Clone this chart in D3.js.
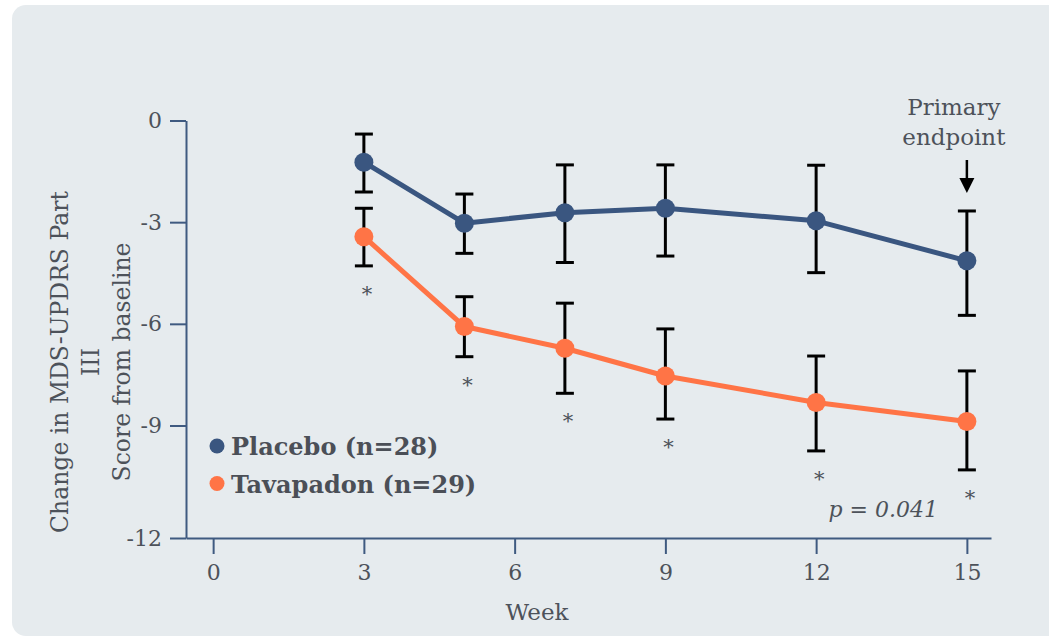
<!DOCTYPE html>
<html>
<head>
<meta charset="utf-8">
<script src="https://cdn.jsdelivr.net/npm/d3@7"></script>
<style>
  html, body { margin: 0; padding: 0; background: #ffffff; }
  svg { display: block; }
  text { font-family: "DejaVu Serif", Georgia, serif; }
</style>
</head>
<body>
<svg id="chart" width="1049" height="639"></svg>
<script>
// ---- data ----
const weeks = [3, 5, 7, 9, 12, 15];
const placeboMean  = [-1.23, -3.03, -2.72, -2.59, -2.96, -4.14];
const placeboUpper = [-0.40, -2.17, -1.31, -1.31, -1.32, -2.67];
const placeboLower = [-2.11, -3.92, -4.19, -4.00, -4.49, -5.75];
const tavaMean  = [-3.43, -6.08, -6.72, -7.54, -8.32, -8.88];
const tavaUpper = [-2.59, -5.20, -5.39, -6.15, -6.95, -7.39];
const tavaLower = [-4.29, -6.97, -8.05, -8.81, -9.75, -10.31];
const significant = [true, true, true, true, true, true];
const xTicks = [0, 3, 6, 9, 12, 15];
const yTicks = [0, -3, -6, -9, -12.32];
const yTickLabels = ["0", "-3", "-6", "-9", "-12"];
const seriesNames = ["Placebo (n=28)", "Tavapadon (n=29)"];
const pText = "p = 0.041";
const yLabelLines = ["Change in MDS-UPDRS Part", "III", "Score from baseline"];
const annotationLines = ["Primary", "endpoint"];

const colors = { placebo: "#3a5680", tava: "#ff7446", axis: "#3f5a80", text: "#4d525a" };

const svg = d3.select("#chart");

// panel
svg.append("rect").attr("x", 12).attr("y", 5).attr("width", 1070).attr("height", 631)
  .attr("rx", 14).attr("fill", "#e6ebee");

const x = d3.scaleLinear().domain([-0.54, 15.48]).range([186, 991]);
const y = d3.scaleLinear().domain([-12.32, 0]).range([538, 120.5]);

// axes
const yAxis = d3.axisLeft(y).tickValues(yTicks).tickSize(16).tickSizeOuter(0).tickPadding(8)
  .tickFormat((d, i) => yTickLabels[i]);
const gy = svg.append("g").attr("transform", "translate(186,0)").call(yAxis);
gy.select(".domain").attr("stroke", colors.axis).attr("stroke-width", 2);
gy.selectAll(".tick line").attr("stroke", colors.axis).attr("stroke-width", 2);
gy.selectAll(".tick text").attr("fill", colors.text).attr("font-size", 22)
  .attr("font-family", "DejaVu Serif");

const xAxis = d3.axisBottom(x).tickValues(xTicks).tickSize(16).tickSizeOuter(0).tickPadding(10);
const gx = svg.append("g").attr("transform", "translate(0,538)").call(xAxis);
gx.select(".domain").attr("stroke", colors.axis).attr("stroke-width", 2);
gx.selectAll(".tick line").attr("stroke", colors.axis).attr("stroke-width", 2);
gx.selectAll(".tick text").attr("fill", colors.text).attr("font-size", 22)
  .attr("font-family", "DejaVu Serif");

// axis titles
svg.append("text").attr("x", 537).attr("y", 620).attr("text-anchor", "middle")
  .attr("font-size", 23).attr("fill", colors.text).text("Week");

const yLabelX = [60, 91, 122];
yLabelLines.forEach((t, i) => {
  svg.append("text")
    .attr("transform", `translate(${yLabelX[i]},362) rotate(-90)`)
    .attr("text-anchor", "middle").attr("dy", "0.35em")
    .attr("font-size", 23.5).attr("fill", colors.text).text(t);
});

// series
const series = [
  { key: "placebo", mean: placeboMean, upper: placeboUpper, lower: placeboLower, color: colors.placebo },
  { key: "tava", mean: tavaMean, upper: tavaUpper, lower: tavaLower, color: colors.tava }
];

const line = d3.line().x(d => x(d.w)).y(d => y(d.v));

series.forEach(s => {
  const pts = weeks.map((w, i) => ({ w, v: s.mean[i], up: s.upper[i], lo: s.lower[i] }));
  svg.append("path").datum(pts).attr("d", line).attr("fill", "none")
    .attr("stroke", s.color).attr("stroke-width", 5).attr("stroke-linejoin", "round");
  const eb = svg.append("g").attr("stroke", "#000").attr("stroke-width", 3);
  pts.forEach(p => {
    eb.append("line").attr("x1", x(p.w)).attr("x2", x(p.w)).attr("y1", y(p.up)).attr("y2", y(p.lo));
    eb.append("line").attr("x1", x(p.w) - 9).attr("x2", x(p.w) + 9).attr("y1", y(p.up)).attr("y2", y(p.up));
    eb.append("line").attr("x1", x(p.w) - 9).attr("x2", x(p.w) + 9).attr("y1", y(p.lo)).attr("y2", y(p.lo));
  });
  s.pts = pts;
});
series.forEach(s => {
  svg.append("g").selectAll("circle").data(s.pts).join("circle")
    .attr("cx", d => x(d.w)).attr("cy", d => y(d.v)).attr("r", 9.5).attr("fill", s.color);
});

// significance asterisks
weeks.forEach((w, i) => {
  if (!significant[i]) return;
  svg.append("text").attr("x", x(w) + 3).attr("y", y(tavaLower[i]) + 35)
    .attr("text-anchor", "middle").attr("font-size", 21).attr("fill", colors.text).text("*");
});

// p value
svg.append("text").attr("x", x(15) - 29).attr("y", 517).attr("text-anchor", "end")
  .attr("font-size", 22).attr("font-style", "italic").attr("fill", colors.text).text(pText);

// primary endpoint annotation
annotationLines.forEach((t, i) => {
  svg.append("text").attr("x", x(15) - 13).attr("y", 115 + i * 30).attr("text-anchor", "middle")
    .attr("font-size", 23).attr("fill", colors.text).text(t);
});
const ax = x(15), tipY = y(placeboUpper[5]) - 18;
svg.append("line").attr("x1", ax).attr("x2", ax).attr("y1", 160).attr("y2", tipY - 12)
  .attr("stroke", "#000").attr("stroke-width", 2.5);
svg.append("path").attr("d", `M${ax - 7.5},${tipY - 15} L${ax + 7.5},${tipY - 15} L${ax},${tipY} Z`)
  .attr("fill", "#000");

// legend
series.forEach((s, i) => {
  const ly = 446 + i * 37.5;
  svg.append("circle").attr("cx", 217).attr("cy", ly).attr("r", 7.5).attr("fill", s.color);
  svg.append("text").attr("x", 231).attr("y", ly + 9).attr("font-size", 24).attr("font-weight", "bold")
    .attr("fill", "#4b4f57").text(seriesNames[i]);
});
</script>
</body>
</html>
